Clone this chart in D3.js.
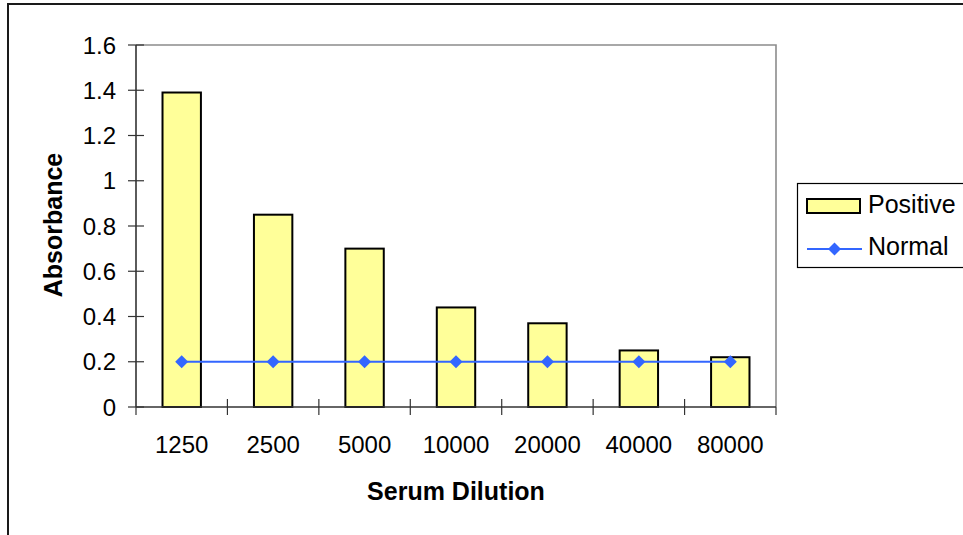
<!DOCTYPE html>
<html>
<head>
<meta charset="utf-8">
<script src="https://cdn.jsdelivr.net/npm/d3@7"></script>
<style>
  html, body { margin: 0; padding: 0; background: #fff; }
  svg { display: block; }
  text { font-family: "Liberation Sans", Arial, sans-serif; fill: #000; }
</style>
</head>
<body>
<svg id="chart" width="963" height="535"></svg>
<script>
const categories = ["1250", "2500", "5000", "10000", "20000", "40000", "80000"];
const positive = [1.39, 0.85, 0.70, 0.44, 0.37, 0.25, 0.22];
const normal = [0.20, 0.20, 0.20, 0.20, 0.20, 0.20, 0.20];
const yTicks = [0, 0.2, 0.4, 0.6, 0.8, 1, 1.2, 1.4, 1.6];
const seriesNames = ["Positive", "Normal"];
const xTitle = "Serum Dilution";
const yTitle = "Absorbance";

const svg = d3.select("#chart");
const plot = { left: 136, right: 776, top: 45, bottom: 407 };

// outer chart border (extends beyond the visible area on right and bottom)
svg.append("rect")
  .attr("x", 8).attr("y", 4)
  .attr("width", 1200).attr("height", 800)
  .attr("fill", "none").attr("stroke", "#1a1a1a").attr("stroke-width", 2);

const xStep = d3.scaleBand().domain(categories).range([plot.left, plot.right]).padding(0);
const barW = xStep.bandwidth() * 0.42;
const y = d3.scaleLinear().domain([0, 1.6]).range([plot.bottom, plot.top]);
const cx = (i) => xStep(categories[i]) + xStep.bandwidth() / 2;

// plot area border (gray top and right)
svg.append("path")
  .attr("d", `M${plot.left},${plot.top}H${plot.right}V${plot.bottom}`)
  .attr("fill", "none").attr("stroke", "#8c8c8c").attr("stroke-width", 1.6);

// bars
svg.append("g").selectAll("rect").data(positive).join("rect")
  .attr("x", (d, i) => cx(i) - barW / 2)
  .attr("y", d => y(d))
  .attr("width", barW)
  .attr("height", d => y(0) - y(d))
  .attr("fill", "#ffff99").attr("stroke", "#000").attr("stroke-width", 2);

// y axis
const yAxis = svg.append("g");
yAxis.append("line")
  .attr("x1", plot.left).attr("x2", plot.left)
  .attr("y1", plot.top).attr("y2", plot.bottom)
  .attr("stroke", "#333").attr("stroke-width", 1.6);
yAxis.selectAll("line.tick").data(yTicks).join("line").attr("class", "tick")
  .attr("x1", plot.left - 8).attr("x2", plot.left + 8)
  .attr("y1", d => y(d)).attr("y2", d => y(d))
  .attr("stroke", "#333").attr("stroke-width", 1.2);
yAxis.selectAll("text").data(yTicks).join("text")
  .attr("x", plot.left - 20).attr("y", d => y(d))
  .attr("text-anchor", "end").attr("dy", "0.36em")
  .style("font-size", "24px")
  .text(d => String(d));

// x axis
const xAxis = svg.append("g");
xAxis.append("line")
  .attr("x1", plot.left).attr("x2", plot.right)
  .attr("y1", plot.bottom).attr("y2", plot.bottom)
  .attr("stroke", "#333").attr("stroke-width", 1.6);
const bounds = categories.map(c => xStep(c)).concat([plot.right]);
xAxis.selectAll("line.tick").data(bounds).join("line").attr("class", "tick")
  .attr("x1", d => d).attr("x2", d => d)
  .attr("y1", (d, i) => (i === 0 || i === bounds.length - 1) ? plot.bottom : plot.bottom - 8)
  .attr("y2", plot.bottom + 8)
  .attr("stroke", "#333").attr("stroke-width", 1.2);
xAxis.selectAll("text").data(categories).join("text")
  .attr("x", (d, i) => cx(i))
  .attr("y", 453)
  .attr("text-anchor", "middle")
  .style("font-size", "24px")
  .text(d => d);

// normal line + markers
const line = d3.line().x((d, i) => cx(i)).y(d => y(d));
svg.append("path").datum(normal)
  .attr("d", line)
  .attr("fill", "none").attr("stroke", "#3366ff").attr("stroke-width", 2);
const r = 6.5;
const diamond = `M0,${-r}L${r},0L0,${r}L${-r},0Z`;
svg.append("g").selectAll("path").data(normal).join("path")
  .attr("transform", (d, i) => `translate(${cx(i)},${y(d)})`)
  .attr("d", diamond)
  .attr("fill", "#3366ff");

// axis titles
svg.append("text")
  .attr("x", (plot.left + plot.right) / 2).attr("y", 500)
  .attr("text-anchor", "middle")
  .style("font-size", "25px").style("font-weight", "bold")
  .text(xTitle);
svg.append("text")
  .attr("transform", `translate(61.5,${(plot.top + plot.bottom) / 2 - 1}) rotate(-90)`)
  .attr("text-anchor", "middle")
  .style("font-size", "25px").style("font-weight", "bold")
  .text(yTitle);

// legend
const lg = svg.append("g");
lg.append("rect")
  .attr("x", 797.5).attr("y", 183.5).attr("width", 300).attr("height", 84)
  .attr("fill", "#fff").attr("stroke", "#000").attr("stroke-width", 1.2);
lg.append("rect")
  .attr("x", 807).attr("y", 199).attr("width", 53).attr("height", 14)
  .attr("fill", "#ffff99").attr("stroke", "#000").attr("stroke-width", 2);
lg.append("text").attr("x", 868).attr("y", 213)
  .style("font-size", "25px").text(seriesNames[0]);
lg.append("line")
  .attr("x1", 807).attr("x2", 862).attr("y1", 249).attr("y2", 249)
  .attr("stroke", "#3366ff").attr("stroke-width", 2);
lg.append("path")
  .attr("transform", "translate(834.5,249)")
  .attr("d", diamond).attr("fill", "#3366ff");
lg.append("text").attr("x", 868).attr("y", 255)
  .style("font-size", "25px").text(seriesNames[1]);
</script>
</body>
</html>
